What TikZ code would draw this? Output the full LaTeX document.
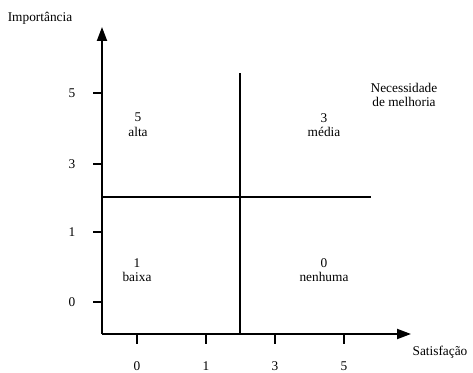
\documentclass[tikz,border=0pt]{standalone}
\usepackage{fontspec}
\setmainfont{Liberation Serif}
\usepackage{tikz}
\usetikzlibrary{arrows.meta,positioning}
\tikzset{
  every picture/.style={font=\fontsize{10}{11}\selectfont},
  axis/.style={line width=1.5pt, -{Triangle[length=10.5pt, width=7.5pt]}},
  divider/.style={line width=1.2pt},
  tick/.style={line width=1.2pt},
  lbl/.style={inner sep=0pt, align=center},
}
\begin{document}
\begin{tikzpicture}[x=0.75pt, y=-0.75pt]
  \useasboundingbox (0,0) rectangle (473,373);

  \coordinate (orig) at (102,334);
  \coordinate (ytip) at (102,27);
  \coordinate (xtip) at (411,334);
  \draw[axis] (orig) -- (ytip);
  \draw[axis] (orig) -- (xtip);

  \node[lbl] (ytitle) at (40,18) {Importância};
  \node[lbl] (xtitle) at (440,352) {Satisfação};
  \node[lbl] (need) at (404,95) {Necessidade\\de melhoria};

  % quadrant lines
  \coordinate (vtop) at (240,73);
  \coordinate (vbot) at (240,334);
  \coordinate (hleft) at (102,197);
  \coordinate (hright) at (371,197);
  \draw[divider] (vbot) -- (vtop);
  \draw[divider] (hleft) -- (hright);

  \foreach \v/\y in {5/93, 3/164, 1/232, 0/302} {
    \draw[tick] (93,\y) -- (102,\y);
    \node[lbl] (y\v) at (72,\y) {\v};
  }
  \foreach \v/\x in {0/137, 1/206, 3/275, 5/344} {
    \draw[tick] (\x,334) -- (\x,344);
    \node[lbl] (x\v) at (\x,366) {\v};
  }

  \node[lbl] (qalta) at (138,125) {5\\alta};
  \node[lbl] (qmedia) at (324,125) {3\\média};
  \node[lbl] (qbaixa) at (137,270) {1\\baixa};
  \node[lbl] (qnenhuma) at (324,270) {0\\nenhuma};
\end{tikzpicture}
\end{document}
